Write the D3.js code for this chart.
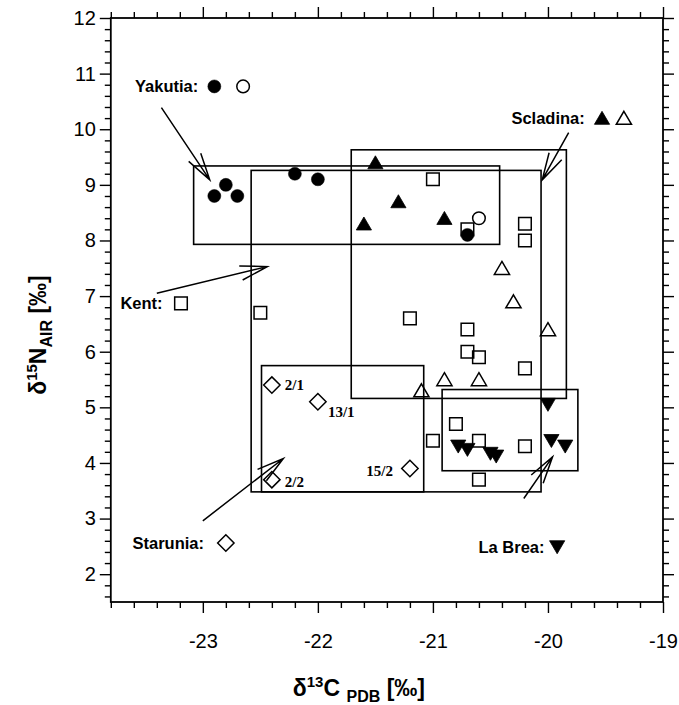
<!DOCTYPE html>
<html><head><meta charset="utf-8">
<script src="https://cdn.jsdelivr.net/npm/d3@7"></script>
<style>body{margin:0;background:#fff}svg{display:block}</style>
</head><body><svg id="c" width="679" height="705"></svg>
<script>
// ---- data ----
const xDomain = [-23.8, -19];
const yDomain = [1.5, 12];
const xMajorTicks = [-23, -22, -21, -20, -19];
const yMajorTicks = [2, 3, 4, 5, 6, 7, 8, 9, 10, 11, 12];

const yakutiaFilled = [[-22.9, 8.8], [-22.8, 9.0], [-22.7, 8.8], [-22.2, 9.2], [-22.0, 9.1], [-20.7, 8.1]];
const yakutiaOpen = [[-20.6, 8.4]];
const scladinaFilled = [[-21.5, 9.4], [-21.3, 8.7], [-21.6, 8.3], [-20.9, 8.4]];
const scladinaOpen = [[-20.4, 7.5], [-20.3, 6.9], [-20.0, 6.4], [-20.9, 5.5], [-20.6, 5.5], [-21.1, 5.3]];
const kent = [[-22.5, 6.7], [-21.0, 9.1], [-20.7, 8.2], [-20.2, 8.3], [-20.2, 8.0], [-21.2, 6.6], [-20.7, 6.4],
              [-20.7, 6.0], [-20.6, 5.9], [-20.2, 5.7], [-20.8, 4.7], [-21.0, 4.4], [-20.6, 4.4], [-20.2, 4.3], [-20.6, 3.7]];
const laBrea = [[-20.0, 5.05], [-20.78, 4.3], [-20.7, 4.24], [-20.5, 4.17], [-20.45, 4.12], [-19.97, 4.4], [-19.85, 4.3]];
const starunia = [[-22.4, 5.4], [-22.0, 5.1], [-22.4, 3.7], [-21.2, 3.9]];
const staruniaLabels = ["2/1", "13/1", "2/2", "15/2"];

// region boxes: [x0, x1, y0, y1]
const boxYakutia = [-23.08, -20.42, 7.93, 9.34];
const boxKent = [-22.58, -20.06, 3.48, 9.26];
const boxScladina = [-21.71, -19.84, 5.16, 9.63];
const boxStarunia = [-22.49, -21.08, 3.48, 5.75];
const boxLaBrea = [-20.92, -19.74, 3.86, 5.32];

// legend labels and legend markers
const legendNames = ["Yakutia:", "Scladina:", "Kent:", "Starunia:", "La Brea:"];
const legendTextPos = [[-23.04, 10.77], [-19.68, 10.2], [-23.35, 6.87], [-22.99, 2.56], [-20.03, 2.49]];
const legendYakutiaFilled = [[-22.9, 10.77]];
const legendYakutiaOpen = [[-22.65, 10.77]];
const legendScladinaFilled = [[-19.53, 10.2]];
const legendScladinaOpen = [[-19.34, 10.2]];
const legendKent = [[-23.19, 6.87]];
const legendStarunia = [[-22.8, 2.56]];
const legendLaBrea = [[-19.92, 2.49]];

// arrows: [xFrom, yFrom, xTo, yTo]
const arrows = [
  [-23.36, 10.39, -22.94, 9.09],
  [-23.40, 7.05, -22.44, 7.53],
  [-19.82, 9.94, -20.05, 9.09],
  [-23.0, 2.96, -22.30, 4.08],
  [-20.21, 3.36, -19.96, 4.11]
];

// ---- drawing ----
const svg = d3.select("#c");
const L = 110.8, R = 663, T = 18, B = 602;
const x = d3.scaleLinear().domain(xDomain).range([L, R]);
const y = d3.scaleLinear().domain(yDomain).range([B, T]);

const tickFont = "'Liberation Sans','Arial',sans-serif";
const boldFont = "'Liberation Sans','Arial',sans-serif";
const fmt = d => (d < 0 ? "-" + Math.abs(d) : String(d));

function minorTicks(d0, d1, step) {
  const out = [];
  const n = Math.round((d1 - d0) / step);
  for (let i = 0; i <= n; i++) out.push(+(d0 + i * step).toFixed(3));
  return out;
}
const xMinor = minorTicks(-23.8, -19, 0.2).filter(v => !xMajorTicks.some(m => Math.abs(m - v) < 1e-6));
const yMinor = minorTicks(1.6, 12, 0.2).filter(v => !yMajorTicks.some(m => Math.abs(m - v) < 1e-6));

// axes
const axB = d3.axisBottom(x).tickValues(xMajorTicks).tickSize(11).tickFormat(fmt);
const axBm = d3.axisBottom(x).tickValues(xMinor).tickSize(6).tickFormat("");
const axT = d3.axisTop(x).tickValues(xMajorTicks).tickSize(11).tickFormat("");
const axTm = d3.axisTop(x).tickValues(xMinor).tickSize(6).tickFormat("");
const axLf = d3.axisLeft(y).tickValues(yMajorTicks).tickSize(11).tickFormat(fmt);
const axLm = d3.axisLeft(y).tickValues(yMinor).tickSize(6).tickFormat("");
const axRt = d3.axisRight(y).tickValues(yMajorTicks).tickSize(11).tickFormat("");
const axRm = d3.axisRight(y).tickValues(yMinor).tickSize(6).tickFormat("");

function styleAxis(g) {
  g.select(".domain").remove();
  g.selectAll("line").attr("stroke", "#000").attr("stroke-width", 1.4);
  g.selectAll("text").attr("fill", "#000").attr("font-family", tickFont).attr("font-size", 20);
}
svg.append("g").attr("transform", `translate(0,${B})`).call(axB).call(styleAxis)
  .selectAll("text").attr("dy", "1.6em");
svg.append("g").attr("transform", `translate(0,${B})`).call(axBm).call(styleAxis);
svg.append("g").attr("transform", `translate(0,${T})`).call(axT).call(styleAxis);
svg.append("g").attr("transform", `translate(0,${T})`).call(axTm).call(styleAxis);
svg.append("g").attr("transform", `translate(${L},0)`).call(axLf).call(styleAxis)
  .selectAll("text").attr("x", -15);
svg.append("g").attr("transform", `translate(${L},0)`).call(axLm).call(styleAxis);
svg.append("g").attr("transform", `translate(${R},0)`).call(axRt).call(styleAxis);
svg.append("g").attr("transform", `translate(${R},0)`).call(axRm).call(styleAxis);

// frame
svg.append("rect").attr("x", L).attr("y", T).attr("width", R - L).attr("height", B - T)
  .attr("fill", "none").attr("stroke", "#000").attr("stroke-width", 1.8);

// region boxes
const boxes = [boxYakutia, boxKent, boxScladina, boxStarunia, boxLaBrea];
svg.append("g").selectAll("rect").data(boxes).join("rect")
  .attr("x", d => x(d[0])).attr("y", d => y(d[3]))
  .attr("width", d => x(d[1]) - x(d[0])).attr("height", d => y(d[2]) - y(d[3]))
  .attr("fill", "none").attr("stroke", "#000").attr("stroke-width", 1.6);

// arrows
const ag = svg.append("g").attr("stroke", "#000").attr("stroke-width", 1.5).attr("fill", "none");
arrows.forEach(a => {
  const x0 = x(a[0]), y0 = y(a[1]), x1 = x(a[2]), y1 = y(a[3]);
  const ang = Math.atan2(y1 - y0, x1 - x0);
  const len = 28, ha = 15 * Math.PI / 180;
  const p1 = [x1 - len * Math.cos(ang - ha), y1 - len * Math.sin(ang - ha)];
  const p2 = [x1 - len * Math.cos(ang + ha), y1 - len * Math.sin(ang + ha)];
  ag.append("path").attr("d", `M${x0},${y0}L${x1},${y1}M${p1[0]},${p1[1]}L${x1},${y1}L${p2[0]},${p2[1]}`);
});

// marker shapes
const sq = "M-6.3,-6.3H6.3V6.3H-6.3Z";
const triUp = "M0,-6.8L7.6,6.2L-7.6,6.2Z";
const triDown = "M0,6.8L7.6,-6.2L-7.6,-6.2Z";
const diamond = "M0,-8.2L8.2,0L0,8.2L-8.2,0Z";

function pts(data, shape, filled, cls) {
  const g = svg.append("g").attr("class", cls);
  if (shape === "circle") {
    g.selectAll("circle").data(data).join("circle")
      .attr("cx", d => x(d[0])).attr("cy", d => y(d[1])).attr("r", filled ? 6.5 : 6.3)
      .attr("fill", filled ? "#000" : "#fff").attr("stroke", "#000").attr("stroke-width", filled ? 0.5 : 1.5);
  } else {
    g.selectAll("path").data(data).join("path")
      .attr("transform", d => `translate(${x(d[0])},${y(d[1])})`)
      .attr("d", shape)
      .attr("fill", filled ? "#000" : "none").attr("stroke", "#000")
      .attr("stroke-width", filled ? 0.8 : 1.5).attr("stroke-linejoin", "miter");
  }
}
pts(kent, sq, false, "kent");
pts(legendKent, sq, false, "kent-leg");
pts(starunia, diamond, false, "starunia");
pts(legendStarunia, diamond, false, "starunia-leg");
pts(scladinaOpen, triUp, false, "scl-open");
pts(legendScladinaOpen, triUp, false, "scl-open-leg");
pts(yakutiaOpen, "circle", false, "yak-open");
pts(legendYakutiaOpen, "circle", false, "yak-open-leg");
pts(scladinaFilled, triUp, true, "scl-filled");
pts(legendScladinaFilled, triUp, true, "scl-filled-leg");
pts(yakutiaFilled, "circle", true, "yak-filled");
pts(legendYakutiaFilled, "circle", true, "yak-filled-leg");
pts(laBrea, triDown, true, "labrea");
pts(legendLaBrea, triDown, true, "labrea-leg");

// Starunia sample labels
const labOff = [[13, 5], [10, 15], [13, 7], [-17, 7]];
const labAnchor = ["start", "start", "start", "end"];
svg.append("g").selectAll("text").data(starunia).join("text")
  .attr("x", (d, i) => x(d[0]) + labOff[i][0]).attr("y", (d, i) => y(d[1]) + labOff[i][1])
  .attr("text-anchor", (d, i) => labAnchor[i])
  .attr("font-family", "'Liberation Serif','Times New Roman',serif").attr("font-weight", "bold")
  .attr("font-size", 15).text((d, i) => staruniaLabels[i]);

// legend names
svg.append("g").selectAll("text").data(legendNames).join("text")
  .attr("x", (d, i) => x(legendTextPos[i][0])).attr("y", (d, i) => y(legendTextPos[i][1]))
  .attr("dy", "0.35em").attr("text-anchor", "end")
  .attr("font-family", boldFont).attr("font-weight", "bold").attr("font-size", 16.5)
  .text(d => d);

// axis titles
const xt = svg.append("text").attr("x", (L + R) / 2 - 28).attr("y", 696).attr("text-anchor", "middle")
  .attr("font-family", tickFont).attr("font-weight", "bold").attr("font-size", 23);
xt.append("tspan").text("δ");
xt.append("tspan").attr("font-size", 15).attr("dy", -9).text("13");
xt.append("tspan").attr("dy", 9).text("C ");
xt.append("tspan").attr("font-size", 16).attr("dy", 6).text("PDB");
xt.append("tspan").attr("dy", -6).text(" [‰]");

const yt = svg.append("text").attr("transform", `translate(46,335) rotate(-90)`)
  .attr("text-anchor", "middle")
  .attr("font-family", tickFont).attr("font-weight", "bold").attr("font-size", 23);
yt.append("tspan").text("δ");
yt.append("tspan").attr("font-size", 15).attr("dy", -9).text("15");
yt.append("tspan").attr("dy", 9).text("N");
yt.append("tspan").attr("font-size", 16).attr("dy", 6).text("AIR");
yt.append("tspan").attr("dy", -6).text(" [‰]");
</script>
</body></html>
